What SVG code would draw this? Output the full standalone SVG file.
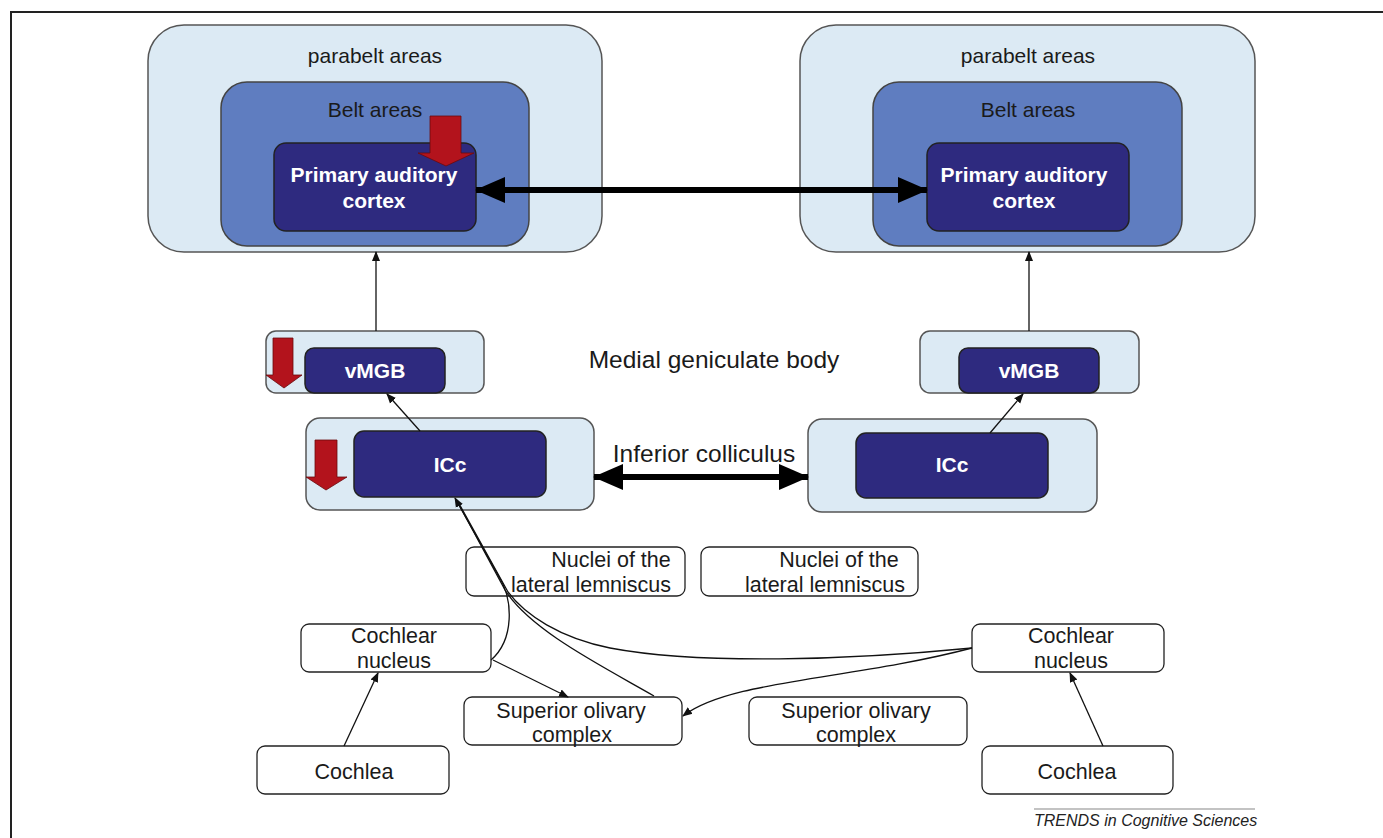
<svg xmlns="http://www.w3.org/2000/svg" width="1383" height="838" viewBox="0 0 1383 838">
<style>
.txt{font-family:"Liberation Sans",Arial,sans-serif;fill:#1a1a1a;text-anchor:middle}
.wb{font-family:"Liberation Sans",Arial,sans-serif;fill:#ffffff;font-weight:bold;text-anchor:middle;font-size:21px}
.para{fill:#dceaf4;stroke:#555;stroke-width:1.5}
.belt{fill:#5f7dc0;stroke:#444;stroke-width:1.5}
.core{fill:#2e2a7f;stroke:#222;stroke-width:1.5}
.box{fill:#fff;stroke:#222;stroke-width:1.3}
.red{fill:#b3131c;stroke:#6a0a0e;stroke-width:0.8}
.thin{fill:none;stroke:#111;stroke-width:1.3}
.thick{fill:none;stroke:#000;stroke-width:6}
</style>
<defs>
<marker id="a" markerWidth="10" markerHeight="10" refX="9" refY="5" orient="auto" markerUnits="userSpaceOnUse"><path d="M0,1 L10,5 L0,9 Z" fill="#111"/></marker>
<marker id="big" markerWidth="30" markerHeight="26" refX="29" refY="13" orient="auto-start-reverse" markerUnits="userSpaceOnUse"><path d="M0,0 L30,13 L0,26 Z" fill="#000"/></marker>
</defs>
<rect width="1383" height="838" fill="#fff"/>
<path d="M11,838 L11,12 L1383,12" fill="none" stroke="#222" stroke-width="2"/>

<g id="left-cortex">
<rect class="para" x="148" y="25" width="454" height="227" rx="36"/>
<text class="txt" x="375" y="63" font-size="21">parabelt areas</text>
<rect class="belt" x="221" y="82" width="308" height="164" rx="26"/>
<text class="txt" x="375" y="117" font-size="21">Belt areas</text>
<rect class="core" x="274" y="143" width="202" height="88" rx="12"/>
<text class="wb" x="374" y="182">Primary auditory</text>
<text class="wb" x="374" y="208">cortex</text>
<path class="red" d="M430,116 L461,116 L461,153 L474,153 L446,166 L418,153 L430,153 Z"/>
</g>
<g id="right-cortex">
<rect class="para" x="800" y="25" width="455" height="227" rx="36"/>
<text class="txt" x="1028" y="63" font-size="21">parabelt areas</text>
<rect class="belt" x="873" y="82" width="309" height="164" rx="26"/>
<text class="txt" x="1028" y="117" font-size="21">Belt areas</text>
<rect class="core" x="927" y="143" width="202" height="88" rx="12"/>
<text class="wb" x="1024" y="182">Primary auditory</text>
<text class="wb" x="1024" y="208">cortex</text>
</g>
<g id="left-vmgb">
<rect class="para" x="266" y="331" width="218" height="62" rx="10"/>
<rect class="core" x="305" y="348" width="140" height="45" rx="9"/>
<text class="wb" x="375" y="378">vMGB</text>
<path class="red" d="M273,338 L293,338 L293,375 L302,375 L284,388 L266,375 L273,375 Z"/>
</g>
<g id="right-vmgb">
<rect class="para" x="920" y="331" width="219" height="62" rx="10"/>
<rect class="core" x="959" y="348" width="140" height="45" rx="9"/>
<text class="wb" x="1029" y="378">vMGB</text>
</g>
<g id="left-icc">
<rect class="para" x="306" y="418" width="288" height="92" rx="14"/>
<rect class="core" x="354" y="431" width="192" height="66" rx="10"/>
<text class="wb" x="450" y="472">ICc</text>
<path class="red" d="M315,440 L337,440 L337,477 L347,477 L326,490 L306,477 L315,477 Z"/>
</g>
<g id="right-icc">
<rect class="para" x="808" y="419" width="289" height="93" rx="14"/>
<rect class="core" x="856" y="433" width="192" height="65" rx="10"/>
<text class="wb" x="952" y="472">ICc</text>
</g>
<g id="labels">
<text class="txt" x="714" y="368" font-size="24.5">Medial geniculate body</text>
<text class="txt" x="704" y="462" font-size="24.5">Inferior colliculus</text>
</g>
<g id="left-nll">
<rect class="box" x="466" y="547" width="219" height="49" rx="8"/>
<text class="txt" x="611" y="567" font-size="21.5">Nuclei of the</text>
<text class="txt" x="591" y="592" font-size="21.5">lateral lemniscus</text>
</g>
<g id="right-nll">
<rect class="box" x="701" y="547" width="217" height="49" rx="8"/>
<text class="txt" x="839" y="567" font-size="21.5">Nuclei of the</text>
<text class="txt" x="825" y="592" font-size="21.5">lateral lemniscus</text>
</g>
<g id="left-cn">
<rect class="box" x="301" y="624" width="190" height="48" rx="8"/>
<text class="txt" x="394" y="643" font-size="21.5">Cochlear</text>
<text class="txt" x="394" y="668" font-size="21.5">nucleus</text>
</g>
<g id="right-cn">
<rect class="box" x="972" y="624" width="192" height="48" rx="8"/>
<text class="txt" x="1071" y="643" font-size="21.5">Cochlear</text>
<text class="txt" x="1071" y="668" font-size="21.5">nucleus</text>
</g>
<g id="left-soc">
<rect class="box" x="464" y="697" width="218" height="48" rx="8"/>
<text class="txt" x="571" y="718" font-size="21.5">Superior olivary</text>
<text class="txt" x="572" y="742" font-size="21.5">complex</text>
</g>
<g id="right-soc">
<rect class="box" x="749" y="697" width="218" height="48" rx="8"/>
<text class="txt" x="856" y="718" font-size="21.5">Superior olivary</text>
<text class="txt" x="856" y="742" font-size="21.5">complex</text>
</g>
<g id="left-cochlea">
<rect class="box" x="257" y="746" width="192" height="48" rx="8"/>
<text class="txt" x="354" y="779" font-size="21.5">Cochlea</text>
</g>
<g id="right-cochlea">
<rect class="box" x="982" y="746" width="191" height="48" rx="8"/>
<text class="txt" x="1077" y="779" font-size="21.5">Cochlea</text>
</g>
<g id="connectors">
<line class="thick" x1="476" y1="190" x2="927" y2="190" marker-start="url(#big)" marker-end="url(#big)"/>
<line class="thick" x1="594" y1="477" x2="808" y2="477" marker-start="url(#big)" marker-end="url(#big)"/>
<line class="thin" x1="376" y1="331" x2="376" y2="252" marker-end="url(#a)"/>
<line class="thin" x1="1029" y1="331" x2="1029" y2="252" marker-end="url(#a)"/>
<line class="thin" x1="420" y1="431" x2="387" y2="394" marker-end="url(#a)"/>
<line class="thin" x1="990" y1="433" x2="1023" y2="394" marker-end="url(#a)"/>
<line class="thin" x1="344" y1="746" x2="378" y2="673" marker-end="url(#a)"/>
<line class="thin" x1="1103" y1="746" x2="1070" y2="673" marker-end="url(#a)"/>
<path class="thin" d="M491,660 C514,640 514,600 498,575 L455,498" marker-end="url(#a)"/>
<path class="thin" d="M654,696 C600,665 530,630 505,590 L456,499"/>
<path class="thin" d="M972,648 C850,660 700,665 610,648 C560,638 525,615 508,592 L457,500"/>
<line class="thin" x1="493" y1="660" x2="568" y2="697" marker-end="url(#a)"/>
<path class="thin" d="M972,648 C850,680 730,680 683,716" marker-end="url(#a)"/>
</g>
<g id="credit">
<line x1="1034" y1="809" x2="1255" y2="809" stroke="#888" stroke-width="1.2"/>
<text x="1034" y="826" font-family="Liberation Sans, Arial, sans-serif" font-style="italic" font-size="16" fill="#222">TRENDS in Cognitive Sciences</text>
</g>
</svg>
